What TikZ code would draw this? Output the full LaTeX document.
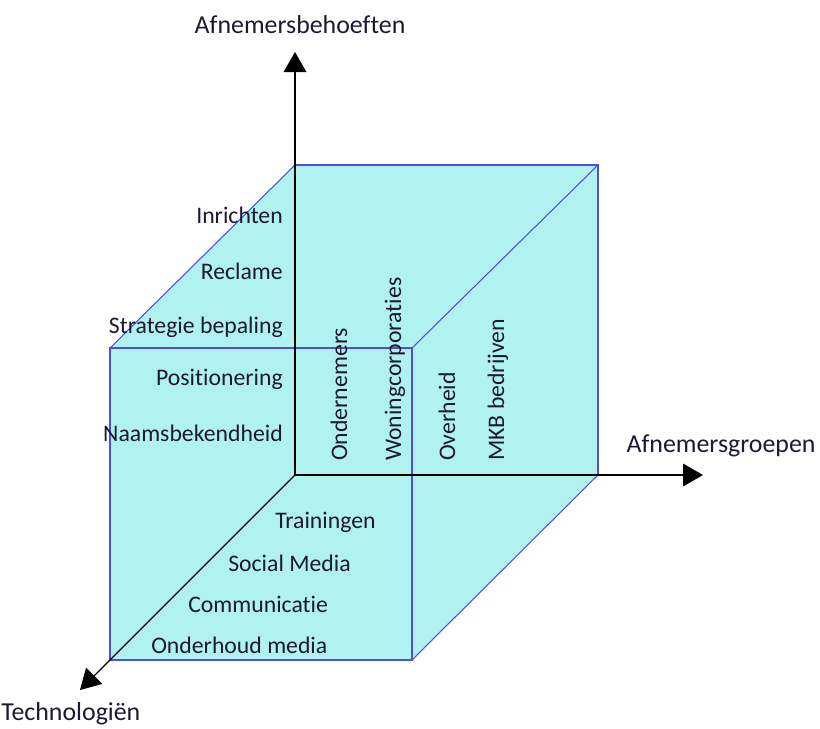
\documentclass[tikz,border=0pt]{standalone}
\usepackage{fontspec}
\setmainfont{Carlito}[Ligatures=NoCommon]
\usetikzlibrary{arrows.meta}
\definecolor{cubefill}{RGB}{175,242,240}
\definecolor{cubeedge}{RGB}{80,80,215}
\definecolor{txt}{RGB}{30,25,50}
\tikzset{
  lbl/.style={inner sep=0pt, font=\fontsize{17.8}{20}\selectfont, text=txt},
  axislbl/.style={inner sep=0pt, font=\fontsize{19.4}{22}\selectfont, text=txt},
  axisline/.style={draw=black, line width=1pt, -{Triangle[length=15pt,width=17pt]}},
  frontedge/.style={draw=cubeedge, line width=1.3pt},
  sideedge/.style={draw=cubeedge, line width=0.8pt},
}
\begin{document}
\begin{tikzpicture}[x=0.75pt,y=-0.75pt]
\useasboundingbox (0,0) rectangle (820,728);
% cube corners
\coordinate (O) at (295,475);
\coordinate (BTL) at (295,165);
\coordinate (BTR) at (598,165);
\coordinate (BBR) at (598,475);
\coordinate (FTL) at (110,348);
\coordinate (FTR) at (412,348);
\coordinate (FBR) at (412,660);
\coordinate (FBL) at (110,660);
% axis ends
\coordinate (Ytip) at (295,52);
\coordinate (Xtip) at (703,475);
\coordinate (Ztip) at (80,690);
% fill
\fill[cubefill] (FTL) -- (BTL) -- (BTR) -- (BBR) -- (FBR) -- (FBL) -- cycle;
% edges
\draw[sideedge] (FTL) -- (BTL);
\draw[sideedge] (FTR) -- (BTR);
\draw[sideedge] (FBR) -- (BBR);
\draw[frontedge] (BTL) -- (BTR) -- (BBR);
\draw[frontedge] (FTL) -- (FTR) -- (FBR) -- (FBL) -- cycle;
% axes
\draw[axisline] (O) -- (Ytip);
\draw[axisline] (O) -- (Xtip);
\draw[axisline] (O) -- (Ztip);
% axis labels
\node[axislbl] (ly) at (300,25) {Afnemersbehoeften};
\node[axislbl] (lx) at (721,446) {Afnemersgroepen};
\node[axislbl, anchor=west] (lz) at (1,714) {Technologiën};
% needs labels
\node[lbl, anchor=east] (n1) at (283,215) {Inrichten};
\node[lbl, anchor=east] (n2) at (283,271) {Reclame};
\node[lbl, anchor=east] (n3) at (283,327) {Strategie bepaling};
\node[lbl, anchor=east] (n4) at (283,379) {Positionering};
\node[lbl, anchor=east] (n5) at (283,433) {Naamsbekendheid};
% groups labels
\node[lbl, rotate=90, anchor=west] (g1) at (339,461) {Ondernemers};
\node[lbl, rotate=90, anchor=west] (g2) at (395,461) {Woningcorporaties};
\node[lbl, rotate=90, anchor=west] (g3) at (447,461) {Overheid};
\node[lbl, rotate=90, anchor=west] (g4) at (498,461) {MKB bedrijven};
% technologies labels
\node[lbl, anchor=west] (t1) at (275,522) {Trainingen};
\node[lbl, anchor=west] (t2) at (228,563) {Social Media};
\node[lbl, anchor=west] (t3) at (188,604) {Communicatie};
\node[lbl, anchor=west] (t4) at (151,645) {Onderhoud media};
\end{tikzpicture}
\end{document}
